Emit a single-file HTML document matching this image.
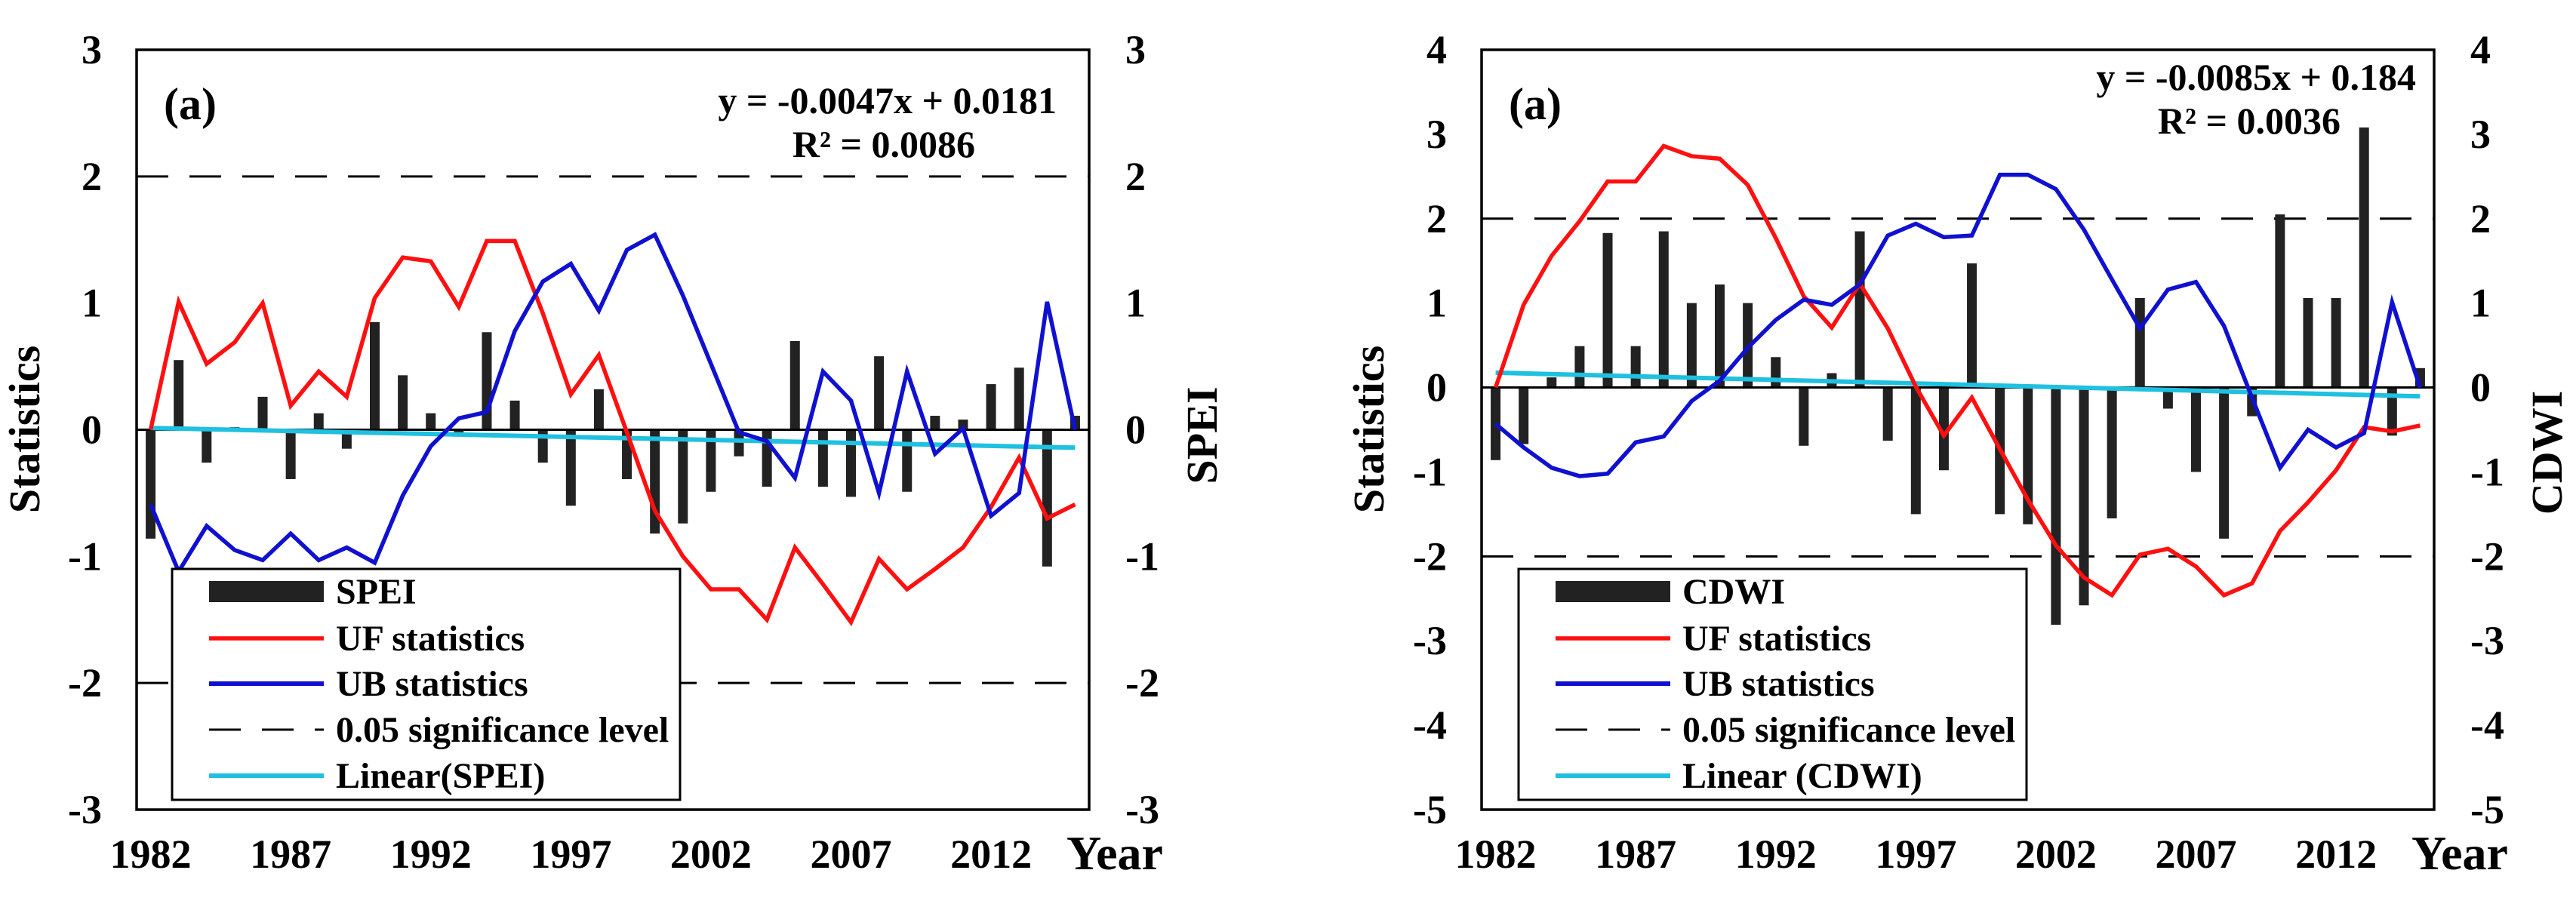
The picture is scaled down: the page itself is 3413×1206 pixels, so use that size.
<!DOCTYPE html>
<html><head><meta charset="utf-8"><style>
html,body{margin:0;padding:0;background:#fff;}
svg{display:block;font-family:"Liberation Serif",serif;font-weight:bold;}
</style></head><body>
<svg id="fig" width="3413" height="1206" viewBox="0 0 3413 1206"></svg>
<script>
const years = [1982,1983,1984,1985,1986,1987,1988,1989,1990,1991,1992,1993,1994,1995,1996,1997,1998,1999,2000,2001,2002,2003,2004,2005,2006,2007,2008,2009,2010,2011,2012,2013,2014,2015];
const yearTicks = [1982,1987,1992,1997,2002,2007,2012];
const speiBars = [-0.86,0.55,-0.26,0.02,0.26,-0.39,0.13,-0.15,0.85,0.43,0.13,-0.02,0.77,0.23,-0.26,-0.6,0.32,-0.39,-0.82,-0.74,-0.49,-0.21,-0.45,0.7,-0.45,-0.53,0.58,-0.49,0.11,0.08,0.36,0.49,-1.08,0.11];
const speiUF = [0,1.01,0.52,0.69,1.0,0.19,0.46,0.26,1.04,1.36,1.33,0.97,1.49,1.49,0.92,0.28,0.59,-0.02,-0.64,-1.0,-1.26,-1.26,-1.5,-0.93,-1.22,-1.52,-1.02,-1.26,-1.1,-0.93,-0.61,-0.22,-0.7,-0.59];
const speiUB = [-0.59,-1.12,-0.76,-0.95,-1.03,-0.82,-1.03,-0.93,-1.05,-0.52,-0.13,0.09,0.14,0.78,1.17,1.31,0.94,1.42,1.54,1.06,0.52,-0.02,-0.09,-0.38,0.46,0.23,-0.5,0.46,-0.19,0.01,-0.68,-0.5,1.01,0];
const speiTrend = [-0.0047, 0.0181];
const speiTicks = [-3,-2,-1,0,1,2,3];
const cdwiBars = [-0.86,-0.67,0.12,0.49,1.83,0.49,1.85,1.0,1.22,1.0,0.36,-0.69,0.17,1.85,-0.63,-1.5,-0.98,1.47,-1.5,-1.62,-2.81,-2.58,-1.55,1.06,-0.25,-1.0,-1.79,-0.34,2.05,1.06,1.06,3.08,-0.57,0.23];
const cdwiUF = [0,0.98,1.56,1.97,2.44,2.44,2.86,2.74,2.71,2.4,1.77,1.08,0.71,1.23,0.7,0.01,-0.57,-0.12,-0.73,-1.33,-1.87,-2.25,-2.46,-1.98,-1.91,-2.12,-2.46,-2.32,-1.7,-1.36,-0.98,-0.47,-0.52,-0.45];
const cdwiUB = [-0.43,-0.71,-0.95,-1.05,-1.02,-0.65,-0.58,-0.16,0.08,0.47,0.8,1.04,0.98,1.22,1.8,1.94,1.78,1.8,2.52,2.52,2.35,1.87,1.28,0.7,1.16,1.25,0.73,-0.12,-0.95,-0.5,-0.71,-0.54,1.01,0];
const cdwiTrend = [-0.0085, 0.184];
const cdwiTicks = [-5,-4,-3,-2,-1,0,1,2,3,4];

const NS='http://www.w3.org/2000/svg';
const svg=document.getElementById('fig');
function mk(tag,attrs,parent,text){const e=document.createElementNS(NS,tag);for(const k in attrs)e.setAttribute(k,attrs[k]);if(text!==undefined)e.textContent=text;(parent||svg).appendChild(e);return e;}

function chart(cfg){
  const g=mk('g',{});
  
  
  const L=cfg.L,R=cfg.R,T=66,B=1073;
  const ymin=cfg.ticks[0],ymax=cfg.ticks[cfg.ticks.length-1];
  const n=years.length,w=(R-L)/n;
  const xs=i=>L+(i+0.5)*w;
  const ys=v=>T+(ymax-v)/(ymax-ymin)*(B-T);
  [2,-2].forEach(v=>{
    const d=mk('line',{x1:L,x2:R,y1:ys(v),y2:ys(v),stroke:'#000','stroke-width':3,'stroke-dasharray':'42 28'},g);
    
    
  });
  cfg.bars.forEach((v,i)=>{
    const y0=ys(0),y1=ys(v);
    const b=mk('rect',{x:xs(i)-6.5,y:Math.min(y0,y1),width:13,height:Math.abs(y1-y0),fill:'#222'},g);
    
    
  });
  const z=mk('line',{x1:L,x2:R,y1:ys(0),y2:ys(0),stroke:'#000','stroke-width':3},g);
  
  
  const tr=mk('line',{x1:xs(0),x2:xs(n-1),y1:ys(cfg.trend[0]*1+cfg.trend[1]),y2:ys(cfg.trend[0]*n+cfg.trend[1]),stroke:'#1fc0e0','stroke-width':6},g);
  
  
  [[cfg.uf,'#ff1010','uf-line'],[cfg.ub,'#1010d0','ub-line']].forEach(s=>{
    const p=mk('polyline',{points:s[0].map((v,i)=>xs(i)+','+ys(v)).join(' '),fill:'none',stroke:s[1],'stroke-width':5.5,'stroke-linejoin':'miter'},g);
    
    
  });
  const fr=mk('rect',{x:L,y:T,width:R-L,height:B-T,fill:'none',stroke:'#000','stroke-width':3.5},g);
  
  
  cfg.ticks.forEach(v=>{
    const a=mk('text',{x:L-46,y:ys(v)+18,'font-size':54,'text-anchor':'end'},g,String(v));
    
    
    const b=mk('text',{x:R+48,y:ys(v)+18,'font-size':54,'text-anchor':'start'},g,String(v));
    
    
  });
  yearTicks.forEach(yr=>{
    const i=years.indexOf(yr);
    const t=mk('text',{x:xs(i),y:1150,'font-size':54,'text-anchor':'middle'},g,String(yr));
    
    
  });
  const yt=mk('text',{x:cfg.yearX,y:1152,'font-size':64},g,'Year');
  
  
  const st=mk('text',{x:0,y:0,'font-size':58,'text-anchor':'middle',transform:`translate(${cfg.statX},569) rotate(-90)`},g,'Statistics');
  
  
  const rt=mk('text',{x:0,y:0,'font-size':58,'text-anchor':'middle',transform:`translate(${cfg.rtX},${cfg.rtY}) rotate(-90)`},g,cfg.name);
  
  
  const pa=mk('text',{x:L+36,y:158,'font-size':60},g,'(a)');
  
  
  const eq=mk('text',{x:cfg.eqX,y:cfg.eqY,'font-size':50,'text-anchor':'end'},g,cfg.eq);
  
  
  const r2=mk('text',{x:cfg.r2X,y:cfg.eqY+58,'font-size':50,'text-anchor':'end'},g,cfg.r2);
  
  
  const lg=mk('g',{},g);
  
  
  const lx=cfg.legX;
  mk('rect',{x:lx,y:754,width:673,height:306,fill:'#fff',stroke:'#000','stroke-width':3},lg);
  const sx=lx+49,ex=lx+201,tx=lx+217;
  const rows=[784,846,906,967,1028];
  const labels=[cfg.name,'UF statistics','UB statistics','0.05 significance level',cfg.linName];
  rows.forEach((ry,k)=>{
    let sym;
    if(k===0) sym=mk('rect',{x:sx,y:ry-14,width:ex-sx,height:28,fill:'#222'},lg);
    else if(k===1) sym=mk('line',{x1:sx,x2:ex,y1:ry,y2:ry,stroke:'#ff1010','stroke-width':5.5},lg);
    else if(k===2) sym=mk('line',{x1:sx,x2:ex,y1:ry,y2:ry,stroke:'#1010d0','stroke-width':6},lg);
    else if(k===3) sym=mk('line',{x1:sx,x2:ex,y1:ry,y2:ry,stroke:'#000','stroke-width':3,'stroke-dasharray':'42 28'},lg);
    else sym=mk('line',{x1:sx,x2:ex,y1:ry,y2:ry,stroke:'#1fc0e0','stroke-width':6},lg);
    
    
    const t=mk('text',{x:tx,y:ry+16,'font-size':48},lg,labels[k]);
    
    
  });
}

chart({id:'spei',L:181,R:1443,bars:speiBars,uf:speiUF,ub:speiUB,trend:speiTrend,ticks:speiTicks,
  name:'SPEI',linName:'Linear(SPEI)',eq:'y = -0.0047x + 0.0181',r2:'R² = 0.0086',eqX:1400,r2X:1292,eqY:150,
  yearX:1413,statX:52,rtX:1612,rtY:577,legX:228});
chart({id:'cdwi',L:1963,R:3225,bars:cdwiBars,uf:cdwiUF,ub:cdwiUB,trend:cdwiTrend,ticks:cdwiTicks,
  name:'CDWI',linName:'Linear  (CDWI)',eq:'y = -0.0085x + 0.184',r2:'R² = 0.0036',eqX:3201,r2X:3101,eqY:119,
  yearX:3195,statX:1833,rtX:3394,rtY:600,legX:2012});
</script>
</body></html>
